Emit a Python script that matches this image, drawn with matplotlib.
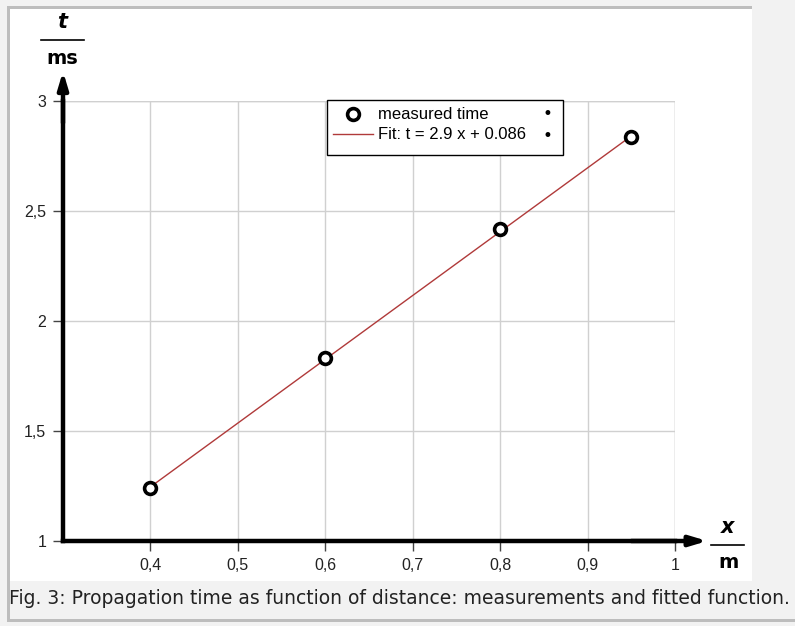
import matplotlib.pyplot as plt
from matplotlib.patches import Rectangle

# measured values
dist = [0.4, 0.6, 0.8, 0.95]
t_meas = [1.24, 1.83, 2.42, 2.835]
# fitted line end points (t = 2.9 x + 0.086)
fit_x = [0.4, 0.95]
fit_y = [1.246, 2.841]
xticks = [0.4, 0.5, 0.6, 0.7, 0.8, 0.9, 1.0]
xtick_labels = ["0,4", "0,5", "0,6", "0,7", "0,8", "0,9", "1"]
yticks = [1, 1.5, 2, 2.5, 3]
ytick_labels = ["1", "1,5", "2", "2,5", "3"]
caption = "Fig. 3: Propagation time as function of distance: measurements and fitted function."

W, H = 795, 626
fig = plt.figure(figsize=(W / 100, H / 100), dpi=100)
fig.patch.set_facecolor("#f2f2f2")

def rect(x0, y0, w, h, z=-5, **kw):
    # rectangle given in pixel coords (top-left origin)
    return Rectangle((x0 / W, 1 - (y0 + h) / H), w / W, h / H,
                     transform=fig.transFigure, zorder=z, **kw)

for r in [rect(8, 6, 744, 3, color="#bdbdbd", lw=0),      # top border
          rect(7, 6, 3, 616, color="#bdbdbd", lw=0),      # left border
          rect(7, 619, 788, 3, color="#bdbdbd", lw=0),    # bottom border
          rect(10, 9, 742, 572, color="white", lw=0)]:    # chart area
    r.set_figure(fig)
    fig.patches.append(r)

ax = fig.add_axes([63 / W, (H - 541) / H, 612 / W, 440 / H])
ax.set_xlim(0.3, 1.0)
ax.set_ylim(1.0, 3.0)
ax.patch.set_alpha(0)

for s in ["top", "right"]:
    ax.spines[s].set_visible(False)
for s in ["left", "bottom"]:
    ax.spines[s].set_linewidth(3.2)
    ax.spines[s].set_color("black")

tickfont = dict(fontfamily="Liberation Sans", fontsize=11.5, color="#222222")
ax.set_xticks(xticks)
ax.set_xticklabels(xtick_labels, **tickfont)
ax.set_yticks(yticks)
ax.set_yticklabels(ytick_labels, **tickfont)
ax.tick_params(length=7, width=1, color="#444444", pad=5)

ax.grid(True, color="#d0d0d0", lw=1)
ax.axvline(1.0, color="#d0d0d0", lw=1)
ax.axhline(3.0, color="#d0d0d0", lw=1)
ax.set_axisbelow(True)

# arrows
head = "-|>,head_length=1.0,head_width=0.3"
ax.annotate("", xy=(0.3, 3.135), xytext=(0.3, 2.9), xycoords="data",
            arrowprops=dict(arrowstyle=head, lw=3.2, color="black",
                            shrinkA=0, shrinkB=0),
            annotation_clip=False)
ax.annotate("", xy=(1.037, 1.0), xytext=(0.95, 1.0), xycoords="data",
            arrowprops=dict(arrowstyle=head, lw=3.2, color="black",
                            shrinkA=0, shrinkB=0),
            annotation_clip=False)

fit_line, = ax.plot(fit_x, fit_y, color="#b03a3a", lw=1)
pts, = ax.plot(dist, t_meas, "o", ms=8.5, mfc="white", mec="black", mew=2.6,
               linestyle="none")

# legend box drawn by hand so it can be as wide as in the picture
box = rect(327, 100, 236, 55, z=4, facecolor="white", edgecolor="black", lw=1)
box.set_clip_on(False)
ax.add_patch(box)
leg = ax.legend([pts, fit_line], ["measured time", "Fit: t = 2.9 x + 0.086"],
                loc="upper left",
                bbox_to_anchor=((330 - 63) / 612, (541 - 104) / 440),
                frameon=False, prop={"family": "Liberation Sans", "size": 12},
                handlelength=2.4, handletextpad=0.3, borderpad=0.2,
                labelspacing=0.3, borderaxespad=0)
leg.set_zorder(6)
# the two dots at the right side of the legend box
ax.text(547 / W, 1 - 114 / H, "•", fontsize=12, ha="center", va="center",
        transform=fig.transFigure, zorder=7)
ax.text(547 / W, 1 - 136 / H, "•", fontsize=12, ha="center", va="center",
        transform=fig.transFigure, zorder=7)

# axis unit labels
bold = dict(fontweight="bold", ha="center", va="center", family="DejaVu Sans")
fig.text(62 / W, 1 - 22 / H, "t", fontsize=15, style="italic", **bold)
fig.add_artist(plt.Line2D([41 / W, 84 / W], [1 - 40 / H, 1 - 40 / H], color="black", lw=1.2))
fig.text(62 / W, 1 - 58 / H, "ms", fontsize=14, **bold)
fig.text(728 / W, 1 - 527 / H, "x", fontsize=15, style="italic", **bold)
fig.add_artist(plt.Line2D([711 / W, 744 / W], [1 - 545 / H, 1 - 545 / H], color="black", lw=1.2))
fig.text(728 / W, 1 - 563 / H, "m", fontsize=14, **bold)

fig.text(9 / W, 1 - 598 / H, caption, fontsize=13.5, color="#222222",
         ha="left", va="center", family="DejaVu Sans")

fig.savefig("out.png", dpi=100, facecolor=fig.get_facecolor())
